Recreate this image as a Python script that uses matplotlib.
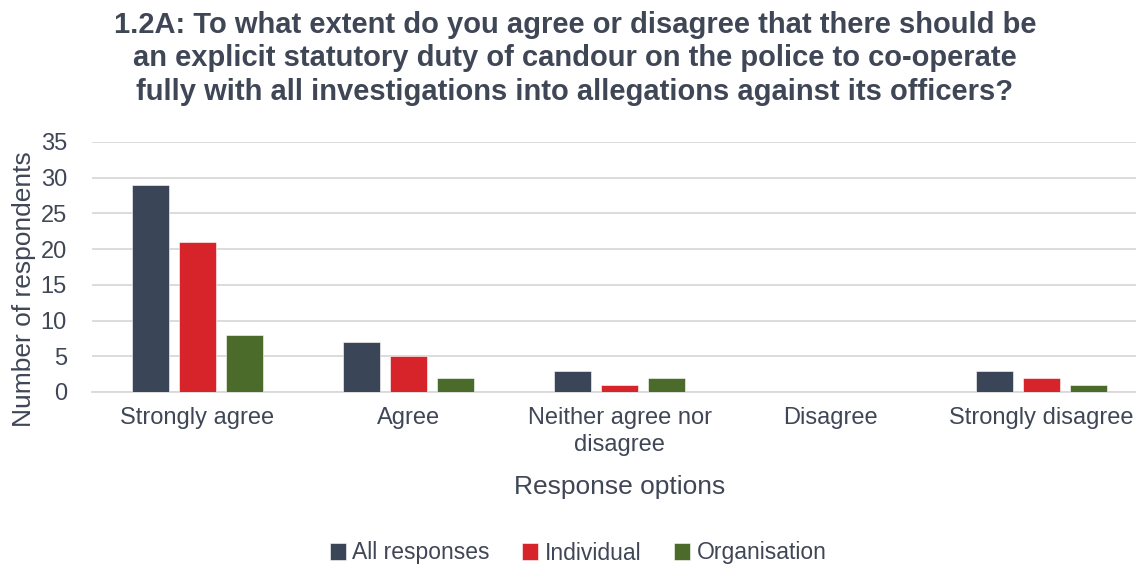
import matplotlib
matplotlib.use("Agg")
import matplotlib.pyplot as plt
import numpy as np

categories = ["Strongly agree", "Agree", "Neither agree nor\ndisagree", "Disagree", "Strongly disagree"]
all_responses = [29, 7, 3, 0, 3]
individual = [21, 5, 1, 0, 2]
organisation = [8, 2, 2, 0, 1]
series_names = ["All responses", "Individual", "Organisation"]
colors = ["#3A4558", "#D7232A", "#4A6B2A"]
yticks = [0, 5, 10, 15, 20, 25, 30, 35]

title = ("1.2A: To what extent do you agree or disagree that there should be\n"
         "an explicit statutory duty of candour on the police to co-operate\n"
         "fully with all investigations into allegations against its officers?")

plt.rcParams["font.family"] = ["Liberation Sans", "DejaVu Sans"]
text_color = "#3F4656"

fig = plt.figure(figsize=(11.36, 5.69), dpi=100)
ax = fig.add_axes([92 / 1136, 1 - 392 / 569, (1147 - 92) / 1136, 250 / 569])

x = np.arange(len(categories))
width = 0.175
step = 0.223
for i, (vals, name, c) in enumerate(zip([all_responses, individual, organisation], series_names, colors)):
    ax.bar(x + (i - 1) * step, vals, width, color=c, label=name, zorder=3,
           edgecolor="white", linewidth=0.4)

ax.set_xlim(-0.5, len(categories) - 0.5)
ax.set_ylim(0, 35)
ax.set_yticks(yticks)
ax.yaxis.grid(True, color="#D9D9D9", linewidth=1.3, zorder=0)
ax.set_axisbelow(True)
for s in ["top", "right", "left"]:
    ax.spines[s].set_visible(False)
ax.spines["bottom"].set_color("#D9D9D9")
ax.spines["bottom"].set_linewidth(1.3)
ax.tick_params(axis="both", length=0, colors=text_color, labelsize=17)
ax.tick_params(axis="y", pad=18)
ax.tick_params(axis="x", pad=11)
ax.set_xticks(x)
ax.set_xticklabels(categories, linespacing=1.25)

ax.set_ylabel("Number of respondents", fontsize=19, color=text_color)
ax.yaxis.set_label_coords(-0.053, 0.41)
ax.set_xlabel("Response options", fontsize=19, color=text_color, labelpad=14)

fig.text(575 / 1136, 1 - 11 / 569, title, ha="center", va="top", fontsize=21,
         fontweight="bold", color=text_color, linespacing=1.24)

leg = fig.legend(loc="center", bbox_to_anchor=(578 / 1136, 1 - 553 / 569), ncol=3,
                 frameon=False, fontsize=16.5, handlelength=0.7, handleheight=0.7,
                 handletextpad=0.3, columnspacing=1.4)
for t in leg.get_texts():
    t.set_color(text_color)

fig.savefig("out.png", dpi=100)
